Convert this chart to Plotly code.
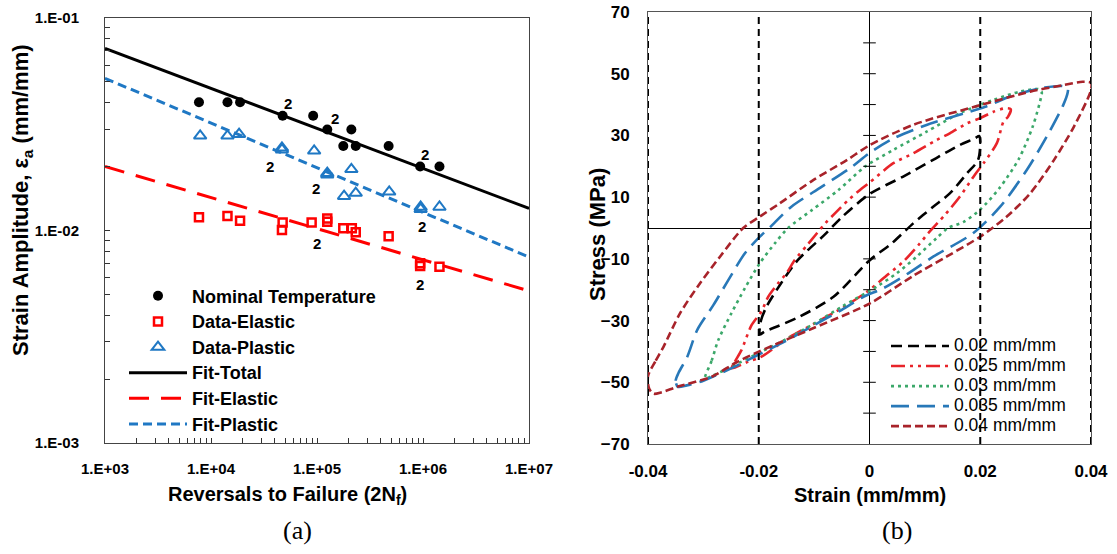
import numpy as np
import plotly.graph_objects as go

W, H = 1117, 554

# ---------------- Panel (a): strain-life data ----------------
N_nominal = [7.7e3, 1.43e4, 1.88e4, 4.74e4, 9.2e4, 1.25e5, 2.11e5, 1.77e5, 2.32e5, 4.74e5, 9.4e5, 1.43e6]
eps_nominal = [0.0401, 0.0401, 0.0401, 0.0347, 0.0347, 0.0299, 0.0299, 0.0250, 0.0250, 0.0250, 0.0200, 0.0200]

N_elastic = [7.7e3, 1.43e4, 1.88e4, 4.74e4, 4.67e4, 8.9e4, 1.25e5, 1.25e5, 1.77e5, 2.13e5, 2.32e5, 4.74e5, 9.4e5, 9.4e5, 1.43e6]
eps_elastic = [0.01154, 0.0117, 0.0111, 0.0109, 0.01005, 0.0109, 0.0114, 0.0110, 0.01024, 0.01024, 0.0098, 0.0094, 0.00702, 0.0068, 0.00676]

N_plastic = [7.9e3, 1.43e4, 1.84e4, 4.67e4, 4.67e4, 9.4e4, 1.25e5, 1.25e5, 2.11e5, 1.80e5, 2.32e5, 4.8e5, 9.5e5, 9.5e5, 1.43e6]
eps_plastic = [0.0279, 0.0279, 0.0284, 0.0245, 0.0240, 0.0237, 0.0186, 0.0183, 0.0194, 0.0145, 0.0150, 0.0152, 0.0129, 0.0126, 0.0129]

fit_N = [1e3, 1e7]
fit_total = [0.0720, 0.0127]
fit_elastic = [0.0200, 0.0052]
fit_plastic = [0.0520, 0.0075]

label2_N = [5.36e4, 1.48e5, 1.05e6, 3.6e4, 9.8e4, 9.7e5, 9.9e4, 9.4e5]
label2_eps = [0.0397, 0.0338, 0.0227, 0.0200, 0.0158, 0.0105, 0.0087, 0.00555]

x_decades = [1e3, 1e4, 1e5, 1e6, 1e7]
x_decade_labels = ["1.E+03", "1.E+04", "1.E+05", "1.E+06", "1.E+07"]
y_decades = [1e-3, 1e-2, 1e-1]
y_decade_labels = ["1.E-03", "1.E-02", "1.E-01"]

# ---------------- Panel (b): hysteresis loops ----------------
strain_002 = [-0.0198, -0.0196, -0.0186, -0.016, -0.013, -0.008, -0.005, 0.0, 0.006, 0.012, 0.0163, 0.0190, 0.0198,
              0.0200, 0.0196, 0.0176, 0.0145, 0.0115, 0.0079, 0.0040, 0.0, -0.0065, -0.0126, -0.0168, -0.0190, -0.0198]
stress_002 = [-34.5, -30, -25.5, -18, -10.5, -2, 3.5, 11, 16.6, 22.6, 26.9, 29.0, 29.8,
              28, 22, 17.7, 11.2, 6.9, 1.5, -5, -10.5, -22.3, -28.7, -32, -33.6, -34.5]

strain_0025 = [-0.0249, -0.0243, -0.0231, -0.0213, -0.0195, -0.0183, -0.0165, -0.015, -0.0135, -0.011, -0.008, -0.0062,
               -0.0038, -0.0014, 0.0, 0.0043, 0.0079, 0.0121, 0.0145, 0.0176, 0.020, 0.0224, 0.0245, 0.0255,
               0.0250, 0.0242, 0.023, 0.0206, 0.019, 0.0163, 0.0136, 0.0106, 0.0091, 0.0061, 0.0025, 0.0,
               -0.005, -0.010, -0.015, -0.0195, -0.0219, -0.0249]
stress_0025 = [-45.5, -43.3, -39.5, -31.5, -27, -22.3, -17.9, -14.7, -10.4, -5, 1.5, 4.8,
               9.1, 12.8, 14.7, 21, 24.2, 28.5, 30.7, 33.9, 35.6, 37.7, 38.8, 38.5,
               36, 34.5, 27.5, 21, 17.2, 10.1, 4.2, -1.7, -5, -10.9, -16.3, -20.1,
               -26, -31, -36, -41.7, -43.3, -45.5]

strain_003 = [-0.0297, -0.0285, -0.0273, -0.0249, -0.0225, -0.0198, -0.0171, -0.0147, -0.0104, -0.0056, -0.0008,
              0.0043, 0.0103, 0.0163, 0.0224, 0.0272, 0.0305, 0.0311,
              0.0310, 0.0295, 0.027, 0.0235, 0.020, 0.017, 0.0142, 0.0121, 0.0085, 0.0049, 0.0013,
              -0.005, -0.010, -0.015, -0.020, -0.025, -0.0285, -0.0297]
stress_003 = [-48.7, -43, -36.3, -27.5, -19.5, -11.4, -5, 0, 5.8, 12.3, 19.9,
              25.3, 31.2, 37.2, 41.5, 44.2, 45.0, 44,
              42.5, 33, 22.5, 13, 6, 2, 0, -3.3, -9.3, -14.7, -19,
              -25.5, -31, -36, -40.5, -45, -48, -48.7]

strain_0035 = [-0.0346, -0.0350, -0.0345, -0.0329, -0.0311, -0.0282, -0.0255, -0.0225, -0.0198, -0.0180, -0.0141,
               -0.0086, -0.0032, 0.0, 0.0043, 0.0103, 0.0209, 0.0254, 0.0308, 0.0348, 0.0358,
               0.0358, 0.0350, 0.0320, 0.0284, 0.0236, 0.0187, 0.0115, 0.0070, 0.0025, -0.0011,
               -0.005, -0.010, -0.015, -0.020, -0.025, -0.030, -0.0330, -0.0346]
stress_0035 = [-51.5, -49.5, -47, -41.7, -33, -25, -16.9, -8.2, -2.8, 0.2, 6.9,
               13.4, 19.8, 24.3, 29, 33.4, 39.3, 42.6, 45.3, 46, 45.5,
               44, 39.9, 29.6, 18.8, 6.9, -1.7, -9.3, -14.7, -19.5, -22.3,
               -26.5, -31.5, -36.5, -41, -45.5, -49.5, -51, -51.5]

strain_004 = [-0.0400, -0.0386, -0.0372, -0.0342, -0.0306, -0.0270, -0.0228, -0.0198, -0.0162, -0.0101, -0.0041,
              0.0, 0.008, 0.020, 0.029, 0.035, 0.0385, 0.0400,
              0.0400, 0.0369, 0.0333, 0.029, 0.0248, 0.020, 0.0139, 0.0079, 0.0, -0.0102, -0.0199,
              -0.024, -0.0285, -0.0346, -0.0375, -0.0390, -0.0398, -0.0400]
stress_004 = [-48, -43, -38.5, -27.6, -17.9, -9.3, 0, 3.7, 8, 15.6, 22,
              26.8, 33.5, 39.8, 44.2, 46.3, 47.4, 47.0,
              44.7, 32.8, 22, 11.2, 3.7, -2.8, -9.3, -15.5, -24.5, -32.5, -40,
              -43.5, -48.2, -51.4, -53.2, -53.7, -52, -48]

loop_labels = ["0.02 mm/mm", "0.025 mm/mm", "0.03 mm/mm", "0.035 mm/mm", "0.04 mm/mm"]
guide_strains = [-0.04, -0.02, 0.02, 0.04]
axis_tick_stress = [-60, -50, -40, -30, -20, -10, 10, 20, 30, 40, 50, 60]

FONT = "Liberation Sans"
fig = go.Figure()

def big(txt, px):
    return f"<span style='font-size:{px}px'>{txt}</span>"

# ---- panel (a) traces ----
fig.add_trace(go.Scatter(x=N_nominal, y=eps_nominal, mode="markers", name=big("Nominal Temperature", 18),
                         marker=dict(symbol="circle", size=10, color="black"),
                         xaxis="x", yaxis="y", legend="legend"))
fig.add_trace(go.Scatter(x=N_elastic, y=eps_elastic, mode="markers", name=big("Data-Elastic", 18),
                         marker=dict(symbol="square-open", size=8, color="#ff0000", line=dict(width=2.5)),
                         xaxis="x", yaxis="y", legend="legend"))
fig.add_trace(go.Scatter(x=N_plastic, y=eps_plastic, mode="markers", name=big("Data-Plastic", 18),
                         marker=dict(symbol="triangle-up-open", size=11, color="#1f78c4", line=dict(width=2)),
                         xaxis="x", yaxis="y", legend="legend"))
fig.add_trace(go.Scatter(x=fit_N, y=fit_total, mode="lines", name=big("Fit-Total", 18),
                         line=dict(color="black", width=3),
                         xaxis="x", yaxis="y", legend="legend"))
fig.add_trace(go.Scatter(x=fit_N, y=fit_elastic, mode="lines", name=big("Fit-Elastic", 18),
                         line=dict(color="#ff0000", width=3, dash="20px,12px"),
                         xaxis="x", yaxis="y", legend="legend"))
fig.add_trace(go.Scatter(x=fit_N, y=fit_plastic, mode="lines", name=big("Fit-Plastic", 18),
                         line=dict(color="#1f78c4", width=3, dash="9px,5px"),
                         xaxis="x", yaxis="y", legend="legend"))

# ---- panel (b) traces ----
loops = [
    (strain_002, stress_002, "#000000", "11px,6px"),
    (strain_0025, stress_0025, "#e8242a", "14px,5px,3px,5px,3px,5px"),
    (strain_003, stress_003, "#3ca86a", "3px,4px"),
    (strain_0035, stress_0035, "#2878b8", "18px,8px"),
    (strain_004, stress_004, "#a8232a", "8px,4px"),
]
for (sx, sy, col, dash), lab in zip(loops, loop_labels):
    fig.add_trace(go.Scatter(x=sx, y=sy, mode="lines", name=big(lab, 17.5),
                             line=dict(color=col, width=2.6, dash=dash, shape="spline", smoothing=0.8),
                             xaxis="x2", yaxis="y2", legend="legend2"))

fig.add_trace(go.Scatter(x=[0] * len(axis_tick_stress), y=axis_tick_stress, mode="markers",
                         marker=dict(symbol="line-ew", size=9, line=dict(color="black", width=1)),
                         showlegend=False, hoverinfo="skip", xaxis="x2", yaxis="y2"))

for gx in guide_strains:
    fig.add_shape(type="line", xref="x2", yref="y2 domain", x0=gx, x1=gx, y0=0, y1=1,
                  line=dict(color="black", width=2, dash="7px,5px"))

# "2" labels
for n, e in zip(label2_N, label2_eps):
    fig.add_annotation(x=np.log10(n), y=np.log10(e), xref="x", yref="y", text="2", showarrow=False,
                       xanchor="center", yanchor="middle",
                       font=dict(family=FONT, size=15, color="black", weight="bold"))

# log-axis tick positions (decades + minor positions)
x_tickvals, x_ticktext = [], []
for d, lab in zip(x_decades, x_decade_labels):
    x_tickvals.append(d); x_ticktext.append(lab)
    if d < x_decades[-1]:
        for m in range(2, 10):
            x_tickvals.append(d * m); x_ticktext.append("")
y_tickvals, y_ticktext = [], []
for d, lab in zip(y_decades, y_decade_labels):
    y_tickvals.append(d); y_ticktext.append(lab)
    if d < y_decades[-1]:
        for m in range(2, 10):
            y_tickvals.append(d * m); y_ticktext.append("")

tickfont = dict(family=FONT, size=15, color="black", weight="bold")
tickfont2 = dict(family=FONT, size=17, color="black", weight="bold")

fig.update_layout(
    width=W, height=H, margin=dict(l=0, r=0, t=0, b=0),
    paper_bgcolor="white", plot_bgcolor="white",
    xaxis=dict(type="log", range=[3, 7], domain=[105 / W, 529 / W], anchor="y",
               tickvals=x_tickvals, ticktext=x_ticktext, ticks="inside", ticklen=5, tickcolor="#333",
               tickangle=0,
               showline=True, mirror=True, linecolor="#444", linewidth=1, showgrid=False, zeroline=False,
               tickfont=tickfont, ticklabelstandoff=12, automargin=False),
    yaxis=dict(type="log", range=[-3, -1], domain=[1 - 443 / H, 1 - 18 / H], anchor="x",
               tickvals=y_tickvals, ticktext=y_ticktext, ticks="inside", ticklen=5, tickcolor="#333",
               showline=True, mirror=True, linecolor="#444", linewidth=1, showgrid=False, zeroline=False,
               tickfont=tickfont, ticklabelstandoff=22, automargin=False),
    xaxis2=dict(range=[-0.04, 0.04], domain=[648 / W, 1091 / W], anchor="y2",
                tickvals=[-0.04, -0.02, 0, 0.02, 0.04], ticktext=["-0.04", "-0.02", "0", "0.02", "0.04"],
                ticks="", tickangle=0, showline=True, mirror=True, linecolor="#555", linewidth=1, showgrid=False,
                zeroline=True, zerolinecolor="black", zerolinewidth=1,
                tickfont=tickfont2, ticklabelstandoff=12, automargin=False),
    yaxis2=dict(range=[-70, 70], domain=[1 - 444 / H, 1 - 12 / H], anchor="x2",
                tickvals=list(range(-70, 71, 20)), ticks="", showline=True, mirror=True, linecolor="#555",
                linewidth=1, showgrid=False, zeroline=True, zerolinecolor="black", zerolinewidth=1,
                tickfont=tickfont2, ticklabelstandoff=14, automargin=False),
    legend=dict(x=124 / W, y=1 - 278 / H, xanchor="left", yanchor="top", bgcolor="rgba(0,0,0,0)",
                font=dict(family=FONT, size=17.4, color="black", weight="bold"), itemwidth=58,
                tracegroupgap=0),
    legend2=dict(x=886 / W, y=1 - 331 / H, xanchor="left", yanchor="top", bgcolor="rgba(0,0,0,0)",
                 font=dict(family=FONT, size=13.1, color="black"), itemwidth=58, tracegroupgap=0),
)

# axis titles and captions
def note(x, y, text, size, angle=0, family=FONT, bold=True):
    fig.add_annotation(x=x / W, y=1 - y / H, xref="paper", yref="paper", textangle=angle, showarrow=False,
                       xanchor="center", yanchor="middle", text=text,
                       font=dict(family=family, size=size, color="black", weight="bold" if bold else "normal"))

note(22, 200, "Strain Amplitude, ε<sub>a</sub> (mm/mm)", 22, angle=-90)
note(287, 495, "Reversals to Failure (2N<sub>f</sub>)", 20)
note(597, 235, "Stress (MPa)", 22, angle=-90)
note(870, 495, "Strain (mm/mm)", 20)
note(297, 530, "(a)", 26, family="Liberation Serif", bold=False)
note(897, 530, "(b)", 26, family="Liberation Serif", bold=False)

fig.write_html("out.html")
